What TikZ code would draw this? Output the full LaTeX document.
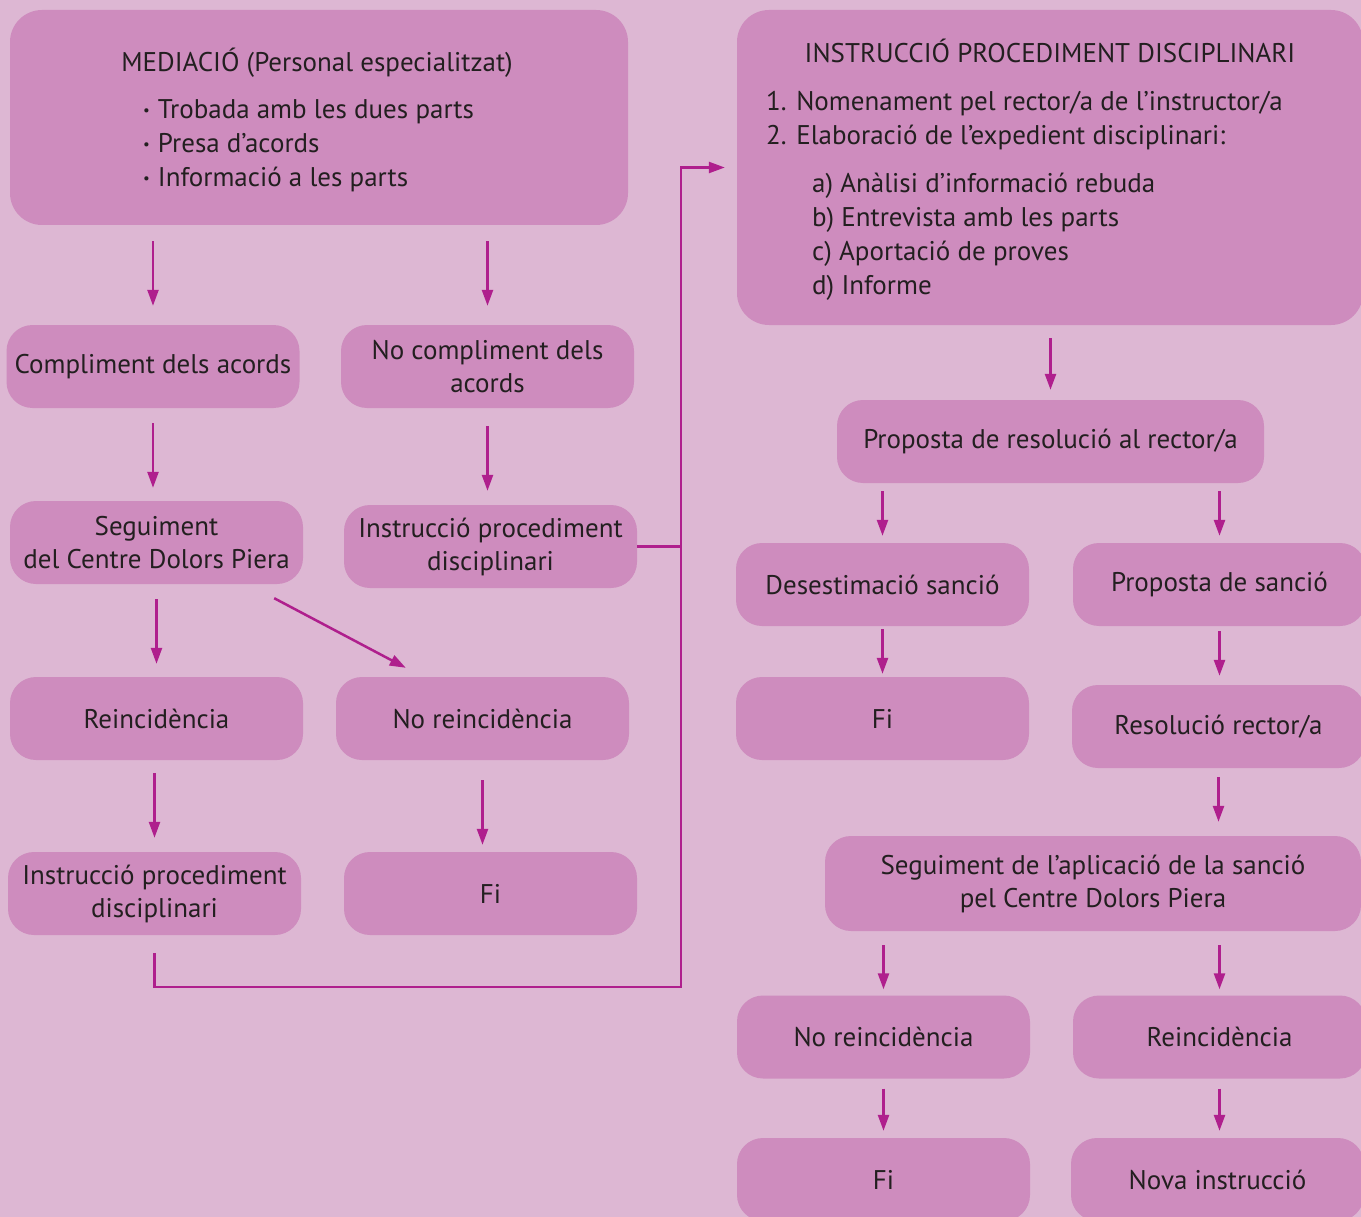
\documentclass[tikz,border=0pt]{standalone}
\usepackage{fontspec}
\setmainfont{PT Sans}
\usetikzlibrary{positioning,arrows.meta,calc}
\definecolor{bgpink}{HTML}{DDB7D3}
\definecolor{boxpink}{HTML}{CE8CBE}
\definecolor{linemag}{HTML}{AF1F8D}
\definecolor{textdark}{HTML}{231F20}
\newcommand{\medbullet}{\raisebox{3pt}{\fontsize{15}{15}\selectfont •}\hspace{8pt}}

\begin{document}
\begin{tikzpicture}[x=1pt,y=-1pt,
  box/.style={fill=boxpink,rounded corners=26pt,minimum width=293pt,minimum height=83pt,inner sep=0pt,align=center,text=textdark,font=\fontsize{27}{33}\selectfont},
  bigbox/.style={fill=boxpink,rounded corners=32pt,inner sep=0pt},
  txt/.style={text=textdark,font=\fontsize{27}{34}\selectfont,inner sep=0pt},
  line/.style={linemag,line width=2.5pt},
  arr/.style={line,-{Triangle[length=16pt,width=11pt]}}
]
\path[use as bounding box,fill=bgpink] (0,0) rectangle (1361,1217);
\clip (0,0) rectangle (1361,1217);

% Left column - Mediation
\node[bigbox,minimum width=618pt,minimum height=215pt] (med) at (319,117.5) {};
\node[txt,anchor=base] (medtitle) at (317,72) {MEDIACIÓ (Personal especialitzat)};
\node[txt,anchor=north west,align=left] (medlist) at (143,99) {\medbullet Trobada amb les dues parts\\\medbullet Presa d’acords\\\medbullet Informació a les parts};

\node[box] (compl) at (153,366.5) {Compliment dels acords};
\node[box] (nocompl) at (487.5,366.5) {No compliment dels\\acords};
\node[box] (seg) at (156.5,542.5) {Seguiment\\del Centre Dolors Piera};
\node[box] (instrmid) at (490.5,546.5) {Instrucció procediment\\disciplinari};
\node[box] (reinc) at (156.5,718.5) {Reincidència};
\node[box] (noreinc) at (482.5,718.5) {No reincidència};
\node[box] (instrbl) at (154.5,893.5) {Instrucció procediment\\disciplinari};
\node[box] (fia) at (490.5,893.5) {Fi};

% Right column - Disciplinary procedure
\node[bigbox,minimum width=626pt,minimum height=315pt] (instr) at (1050,167.5) {};
\node[txt,anchor=base] (instrtitle) at (1050,63) {INSTRUCCIÓ PROCEDIMENT DISCIPLINARI};
\node[txt,anchor=north west,align=left] (instrsteps) at (766,91) {1. Nomenament pel rector/a de l’instructor/a\\2. Elaboració de l’expedient disciplinari:};
\node[txt,anchor=north west,align=left] (instrsub) at (812,173) {a) Anàlisi d’informació rebuda\\b) Entrevista amb les parts\\c) Aportació de proves\\d) Informe};

\node[box,minimum width=427pt] (propres) at (1050.5,441.5) {Proposta de resolució al rector/a};
\node[box] (desest) at (882.5,584.5) {Desestimació sanció};
\node[box] (propsanc) at (1219.5,584.5) {Proposta de sanció};
\node[box] (fib) at (882.5,718.5) {Fi};
\node[box] (resol) at (1218.5,726.5) {Resolució rector/a};
\node[box,minimum width=536pt,minimum height=95pt] (segapl) at (1093,883.5) {Seguiment de l’aplicació de la sanció\\pel Centre Dolors Piera};
\node[box] (noreinc2) at (883.5,1037) {No reincidència};
\node[box] (reinc2) at (1219.5,1037) {Reincidència};
\node[box] (fic) at (883.5,1179.5) {Fi};
\node[box] (nova) at (1217.5,1179.5) {Nova instrucció};

% Arrows - left column
\draw[arr,shorten <=16pt,shorten >=19pt] (med.south -| compl) -- (compl.north);
\draw[arr,shorten <=16pt,shorten >=19pt] (med.south -| nocompl) -- (nocompl.north);
\draw[arr,shorten <=15pt,shorten >=13pt] (compl.south) -- (compl.south |- seg.north);
\draw[arr,shorten <=18pt,shorten >=14pt] (nocompl.south) -- (nocompl.south |- instrmid.north);
\draw[arr,shorten <=15pt,shorten >=13pt] (seg.south) -- (seg.south |- reinc.north);
\draw[arr] ([xshift=-29pt,yshift=-14pt]seg.south east) -- ([xshift=70pt,yshift=9pt]noreinc.north west);
\draw[arr,shorten <=13pt,shorten >=14pt] (reinc.south -| instrbl) -- (instrbl.north);
\draw[arr,shorten <=20pt,shorten >=7pt] (noreinc.south) -- (noreinc.south |- fia.north);

% Link to the disciplinary procedure
\coordinate (bus) at (681,987);
\draw[arr,shorten <=18pt,shorten >=12pt] (instrbl.south) |- (bus) |- (instr.west);
\draw[line] (instrmid.east) -- (instrmid.east -| bus);

% Arrows - right column
\draw[arr,shorten <=13pt,shorten >=10pt] (instr.south -| propres) -- (propres.north);
\draw[arr,shorten <=8pt,shorten >=7pt] (propres.south -| desest) -- (desest.north);
\draw[arr,shorten <=8pt,shorten >=7pt] (propres.south -| propsanc) -- (propsanc.north);
\draw[arr,shorten <=3pt,shorten >=3pt] (desest.south) -- (fib.north);
\draw[arr,shorten <=5pt,shorten >=9pt] (propsanc.south) -- (propsanc.south |- resol.north);
\draw[arr,shorten <=9pt,shorten >=14pt] (resol.south) -- (resol.south |- segapl.north);
\draw[arr,shorten <=14pt,shorten >=6pt] (segapl.south -| noreinc2) -- (noreinc2.north);
\draw[arr,shorten <=14pt,shorten >=6pt] (segapl.south -| reinc2) -- (reinc2.north);
\draw[arr,shorten <=10pt,shorten >=7pt] (noreinc2.south) -- (fic.north);
\draw[arr,shorten <=10pt,shorten >=7pt] (reinc2.south) -- (reinc2.south |- nova.north);
\end{tikzpicture}
\end{document}
